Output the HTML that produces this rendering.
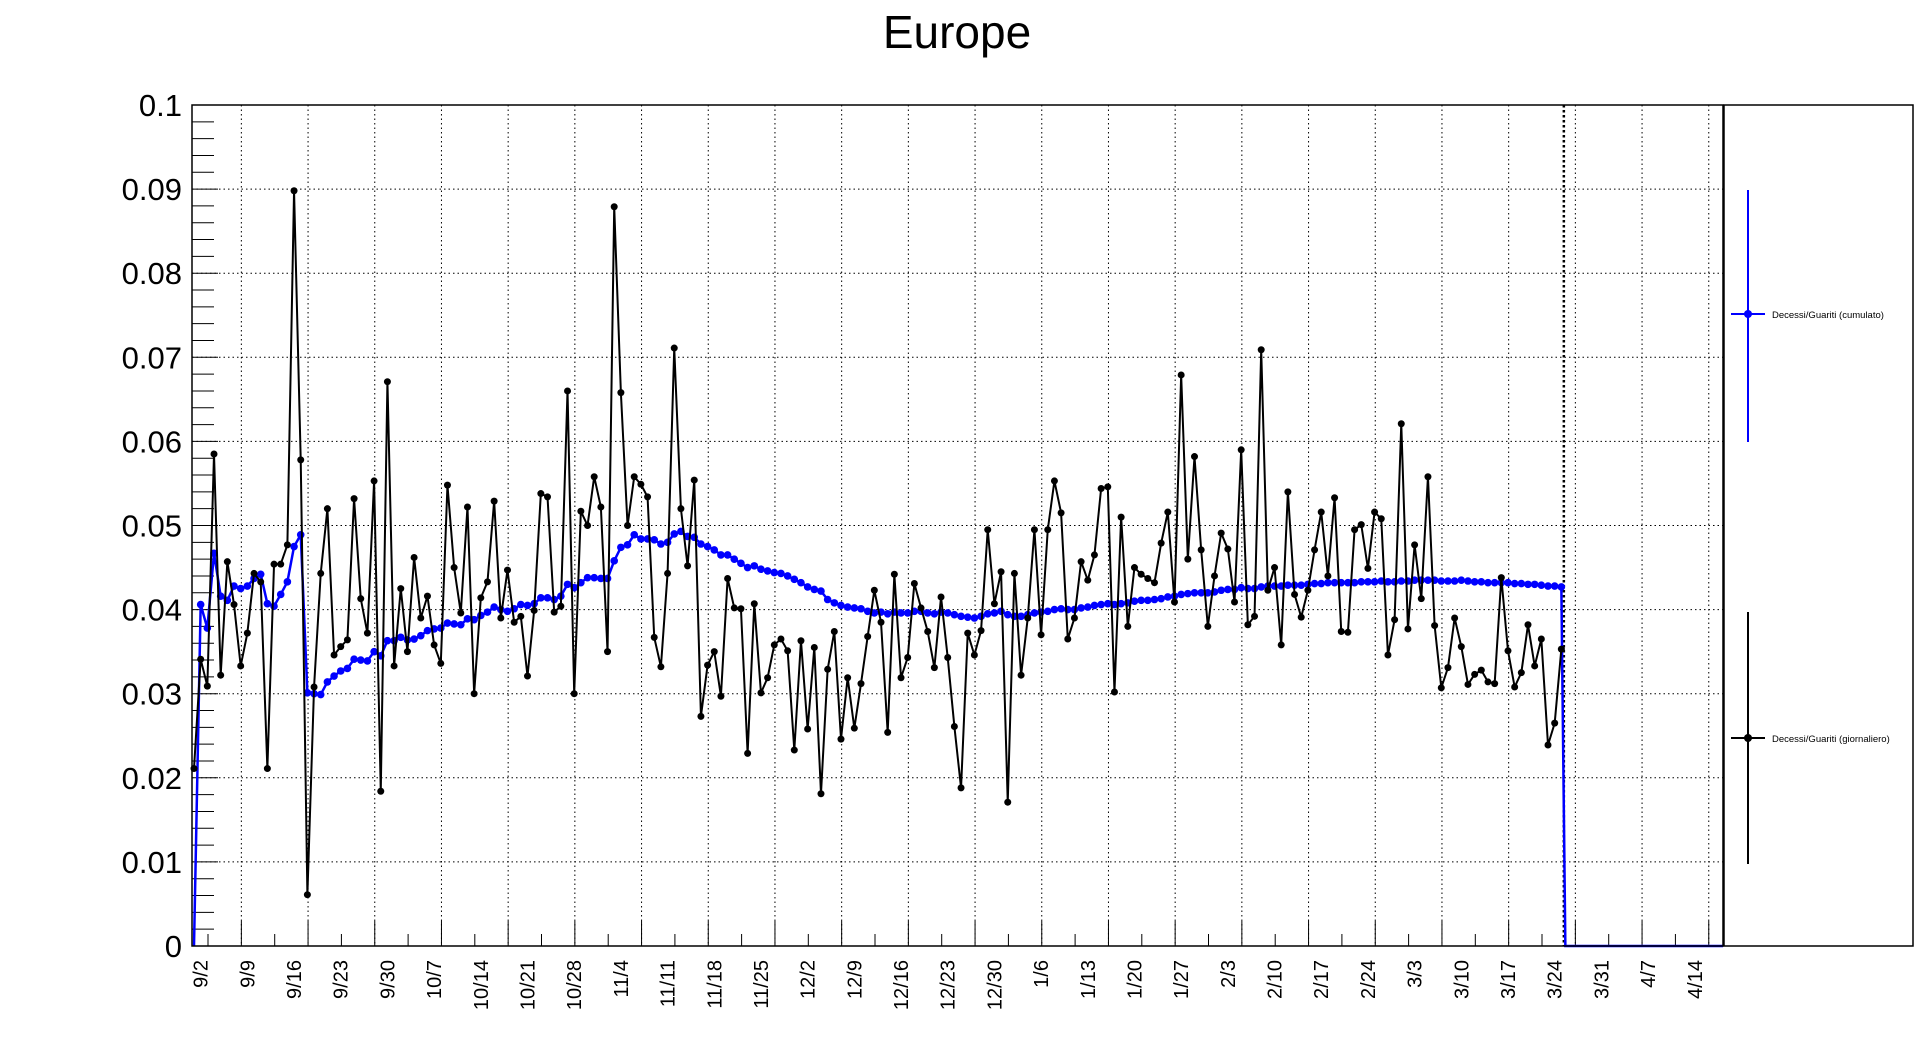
<!DOCTYPE html>
<html><head><meta charset="utf-8">
<style>
html,body{margin:0;padding:0;background:#fff;}
svg{display:block;font-family:"Liberation Sans",sans-serif;}
</style></head>
<body>
<svg id="chart" width="1916" height="1052" viewBox="0 0 1916 1052" xmlns="http://www.w3.org/2000/svg">
<rect x="0" y="0" width="1916" height="1052" fill="#fff"/>
<text x="957" y="48" font-size="46" text-anchor="middle">Europe</text>
<g id="grid"></g>
<g id="axes"></g>
<g id="series"></g>
<rect x="192" y="105" width="1531" height="841" fill="none" stroke="#000" stroke-width="1.5"/>
<g>
  <rect x="1724" y="105" width="189" height="841" fill="none" stroke="#000" stroke-width="1.5"/>
  <g>
    <line x1="1748" y1="190" x2="1748" y2="442" stroke="#00f" stroke-width="2"/>
    <line x1="1731" y1="314" x2="1765" y2="314" stroke="#00f" stroke-width="2"/>
    <circle cx="1748" cy="314" r="4" fill="#00f"/>
    <text x="1772" y="318" font-size="9.5">Decessi/Guariti (cumulato)</text>
  </g>
  <g>
    <line x1="1748" y1="612" x2="1748" y2="864" stroke="#000" stroke-width="2"/>
    <line x1="1731" y1="738" x2="1765" y2="738" stroke="#000" stroke-width="2"/>
    <circle cx="1748" cy="738" r="4" fill="#000"/>
    <text x="1772" y="742" font-size="9.5">Decessi/Guariti (giornaliero)</text>
  </g>
</g>
</svg>
<script>
const xTickLabels=["9/2","9/9","9/16","9/23","9/30","10/7","10/14","10/21","10/28","11/4","11/11","11/18","11/25","12/2","12/9","12/16","12/23","12/30","1/6","1/13","1/20","1/27","2/3","2/10","2/17","2/24","3/3","3/10","3/17","3/24","3/31","4/7","4/14"];
const yTickLabels=["0","0.01","0.02","0.03","0.04","0.05","0.06","0.07","0.08","0.09","0.1"];
const lastDataDay=205;
const daily=[0.0211,0.0341,0.0309,0.0585,0.0322,0.0457,0.0406,0.0333,0.0372,0.0443,0.0433,0.0211,0.0454,0.0454,0.0477,0.0898,0.0578,0.0061,0.0308,0.0443,0.0520,0.0346,0.0356,0.0364,0.0532,0.0413,0.0372,0.0553,0.0184,0.0671,0.0333,0.0425,0.0350,0.0462,0.0390,0.0416,0.0358,0.0336,0.0548,0.0450,0.0396,0.0522,0.0300,0.0414,0.0433,0.0529,0.0390,0.0447,0.0385,0.0392,0.0321,0.0399,0.0538,0.0534,0.0397,0.0404,0.0660,0.0300,0.0517,0.0500,0.0558,0.0522,0.0350,0.0879,0.0658,0.0500,0.0558,0.0549,0.0534,0.0367,0.0332,0.0443,0.0711,0.0520,0.0452,0.0554,0.0273,0.0334,0.0350,0.0297,0.0437,0.0402,0.0401,0.0229,0.0407,0.0301,0.0319,0.0358,0.0365,0.0351,0.0233,0.0363,0.0258,0.0355,0.0181,0.0329,0.0374,0.0246,0.0319,0.0259,0.0312,0.0368,0.0423,0.0385,0.0254,0.0442,0.0319,0.0343,0.0431,0.0402,0.0374,0.0331,0.0415,0.0343,0.0261,0.0188,0.0372,0.0346,0.0375,0.0495,0.0407,0.0445,0.0171,0.0443,0.0322,0.0390,0.0495,0.0370,0.0495,0.0553,0.0515,0.0365,0.0390,0.0457,0.0435,0.0465,0.0544,0.0546,0.0302,0.0510,0.0380,0.0450,0.0442,0.0437,0.0432,0.0479,0.0516,0.0409,0.0679,0.0460,0.0582,0.0471,0.0380,0.0440,0.0491,0.0472,0.0409,0.0590,0.0382,0.0392,0.0709,0.0423,0.0450,0.0358,0.0540,0.0418,0.0391,0.0423,0.0471,0.0516,0.0440,0.0533,0.0374,0.0373,0.0495,0.0501,0.0449,0.0516,0.0508,0.0346,0.0388,0.0621,0.0377,0.0477,0.0413,0.0558,0.0381,0.0307,0.0331,0.0390,0.0356,0.0311,0.0323,0.0328,0.0314,0.0312,0.0438,0.0351,0.0308,0.0325,0.0382,0.0333,0.0365,0.0239,0.0265,0.0353];
const cumulative=[0,0.0406,0.0378,0.0467,0.0416,0.0411,0.0428,0.0425,0.0428,0.0437,0.0442,0.0407,0.0404,0.0418,0.0433,0.0475,0.0489,0.0301,0.0300,0.0299,0.0314,0.0321,0.0327,0.0330,0.0341,0.0340,0.0339,0.0350,0.0345,0.0363,0.0363,0.0367,0.0364,0.0365,0.0369,0.0375,0.0377,0.0378,0.0384,0.0383,0.0382,0.0389,0.0388,0.0393,0.0397,0.0403,0.0400,0.0398,0.0401,0.0406,0.0405,0.0407,0.0414,0.0414,0.0412,0.0416,0.0430,0.0426,0.0432,0.0438,0.0438,0.0437,0.0437,0.0458,0.0474,0.0477,0.0489,0.0484,0.0484,0.0483,0.0478,0.0480,0.0490,0.0493,0.0487,0.0486,0.0478,0.0475,0.0471,0.0465,0.0465,0.0460,0.0455,0.0450,0.0452,0.0448,0.0446,0.0444,0.0443,0.0440,0.0436,0.0432,0.0427,0.0424,0.0422,0.0412,0.0408,0.0405,0.0403,0.0402,0.0401,0.0398,0.0396,0.0397,0.0395,0.0397,0.0396,0.0396,0.0398,0.0398,0.0396,0.0395,0.0397,0.0396,0.0394,0.0392,0.0391,0.0390,0.0392,0.0395,0.0396,0.0398,0.0394,0.0392,0.0392,0.0394,0.0396,0.0397,0.0398,0.0400,0.0401,0.0400,0.0400,0.0402,0.0403,0.0405,0.0406,0.0407,0.0406,0.0407,0.0408,0.0410,0.0411,0.0411,0.0412,0.0413,0.0415,0.0416,0.0418,0.0419,0.0420,0.0420,0.0420,0.0421,0.0423,0.0424,0.0424,0.0426,0.0425,0.0425,0.0427,0.0428,0.0428,0.0428,0.0429,0.0429,0.0429,0.0430,0.0431,0.0431,0.0432,0.0432,0.0432,0.0432,0.0432,0.0433,0.0433,0.0433,0.0434,0.0433,0.0433,0.0434,0.0434,0.0435,0.0435,0.0435,0.0435,0.0434,0.0434,0.0434,0.0435,0.0434,0.0433,0.0433,0.0432,0.0432,0.0432,0.0432,0.0431,0.0431,0.0430,0.0430,0.0429,0.0428,0.0428,0.0427];

const NS="http://www.w3.org/2000/svg";
const L=192,R=1723,T=105,B=946;
const X0=194,DX=6.67;
function xs(d){return X0+DX*d;}
function ys(v){return B-(v/0.1)*(B-T);}
function mk(tag,attrs,parent){const e=document.createElementNS(NS,tag);for(const k in attrs)e.setAttribute(k,attrs[k]);parent.appendChild(e);return e;}
const grid=document.getElementById('grid'),axes=document.getElementById('axes'),series=document.getElementById('series');

// y grid, ticks, labels
yTickLabels.forEach((lab,i)=>{
  const v=i*0.01,y=ys(v);
  if(i>0&&i<10){const g=mk('line',{x1:L,x2:R,y1:y,y2:y,stroke:'#000','stroke-width':1,'stroke-dasharray':'1.5,3'},grid);
  
  }
  const t=mk('text',{x:182,y:y+11,'font-size':31,'text-anchor':'end'},axes);t.textContent=lab;
  
  
});
for(let k=0;k<=50;k++){const y=ys(k*0.002);
  const tk=mk('line',{x1:L,x2:L+(k%5===0?26:22),y1:y,y2:y,stroke:'#000','stroke-width':1},axes);
  
  }
// x ticks and grid (every 5 days from day 2.1)
for(let k=0;k<46;k++){const d=2.1+5*k;const x=xs(d);if(x>R)break;
  const major=(k%2===1);
  const tk=mk('line',{x1:x,x2:x,y1:B,y2:B-(major?25:12),stroke:'#000','stroke-width':1},axes);
  
  
  if(major){const g=mk('line',{x1:x,x2:x,y1:T,y2:B,stroke:'#000','stroke-width':1,'stroke-dasharray':'1.5,3'},grid);
  
  }
}
xTickLabels.forEach((lab,i)=>{const x=xs(1+7*i)+7;
  const t=mk('text',{x:x,y:960,'font-size':20,'text-anchor':'end',transform:`rotate(-90 ${x} 960)`},axes);t.textContent=lab;
  
  });

// vertical dotted line at last data day
const vl=mk('line',{x1:xs(lastDataDay)+2.5,x2:xs(lastDataDay)+2.5,y1:T,y2:B,stroke:'#000','stroke-width':2.5,'stroke-dasharray':'2.5,2.5'},series);



// cumulative blue
let pb=cumulative.map((v,i)=>xs(i)+','+ys(v)).join(' ');
pb+=' '+(xs(cumulative.length-1)+4)+','+ys(0)+' '+R+','+ys(0);
const bl=mk('polyline',{points:pb,fill:'none',stroke:'#00f','stroke-width':2.5},series);


cumulative.forEach((v,i)=>{if(v<=0)return;const c=mk('circle',{cx:xs(i),cy:ys(v),r:3.8,fill:'#00f'},series);
  
  });

// daily black
const pk=daily.map((v,i)=>xs(i)+','+ys(v)).join(' ');
const kl=mk('polyline',{points:pk,fill:'none',stroke:'#000','stroke-width':2},series);


daily.forEach((v,i)=>{const c=mk('circle',{cx:xs(i),cy:ys(v),r:3.5,fill:'#000'},series);
  
  });
</script>
</body></html>
